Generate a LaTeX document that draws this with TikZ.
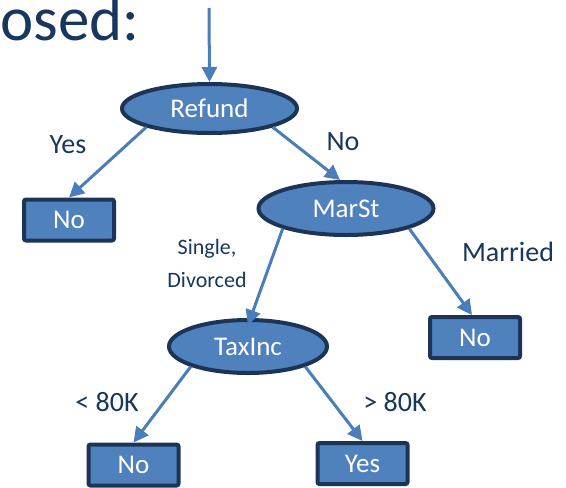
\documentclass[tikz,border=0pt]{standalone}
\usepackage{fontspec}
\setmainfont{Carlito}
\usetikzlibrary{shapes.geometric,arrows.meta}
\definecolor{navy}{HTML}{17375E}
\definecolor{edgeblue}{HTML}{4A7EBB}
\definecolor{nodefill}{HTML}{4F81BD}
\definecolor{nodeline}{HTML}{1C3556}
\tikzset{
  decision/.style={ellipse, draw=nodeline, line width=4pt, fill=nodefill,
    text=white, inner sep=0pt, font=\fontsize{27}{30}\selectfont},
  leaf/.style={rectangle, rounded corners=2pt, draw=nodeline, line width=4pt,
    fill=nodefill, text=white, inner sep=0pt, minimum width=90pt,
    minimum height=41pt, font=\fontsize{27}{30}\selectfont},
  lbl/.style={text=navy, inner sep=0pt, font=\fontsize{28}{30}\selectfont},
  branch/.style={draw=edgeblue, line width=3pt,
    -{Triangle[length=15pt,width=15pt]}},
}
\begin{document}
\begin{tikzpicture}[x=1pt,y=-1pt]
  \useasboundingbox (0,0) rectangle (566,488);

  % heading fragment
  \node[anchor=base west, text=navy, inner sep=0pt,
        font=\fontsize{63}{70}\selectfont] (head) at (0,40) {osed:};

  % decision nodes
  \node[decision, minimum width=175pt, minimum height=49pt] (refund) at (209.5,108.5) {Refund};
  \node[decision, minimum width=175pt, minimum height=53pt] (marst) at (346,208.5) {MarSt};
  \node[decision, minimum width=158pt, minimum height=53pt] (taxinc) at (248,346.5) {TaxInc};

  % leaves
  \node[leaf] (leafA) at (69,220) {No};
  \node[leaf] (leafB) at (475,337.5) {No};
  \node[leaf] (leafC) at (133.5,465) {No};
  \node[leaf] (leafD) at (362.5,463.5) {Yes};

  % branch labels
  \node[lbl] (lyes) at (68,145) {Yes};
  \node[lbl] (lno) at (343,142) {No};
  \node[lbl, align=center, font=\fontsize{22}{33}\selectfont] (lsingle) at (207,263.5) {Single,\\Divorced};
  \node[lbl] (lmarried) at (508,252) {Married};
  \node[lbl] (llt) at (107,402) {< 80K};
  \node[lbl] (lgt) at (395,402) {> 80K};

  % connectors
  \coordinate (entry) at (209,8);
  \draw[branch] (entry) -- (refund.north);
  \draw[branch] (refund.south west) -- (leafA.north);
  \draw[branch] (refund.south east) -- ([xshift=-6pt]marst.north);
  \draw[branch] (marst.south west) -- ([yshift=-7pt]taxinc.north);
  \draw[branch] (marst.south east) -- ([xshift=-3pt]leafB.north);
  \draw[branch] (taxinc.south west) -- (leafC.north);
  \draw[branch] (taxinc.south east) -- (leafD.north);
\end{tikzpicture}
\end{document}
